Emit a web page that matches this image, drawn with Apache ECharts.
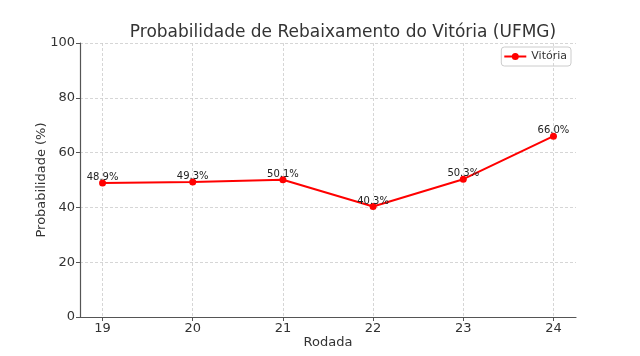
<!DOCTYPE html>
<html><head><meta charset="utf-8">
<script src="https://cdn.jsdelivr.net/npm/echarts@6/dist/echarts.min.js"></script>
<style>html,body{margin:0;padding:0;background:#fff}#c{width:640px;height:356px}</style>
</head><body><div id="c"></div>
<script>
const rodadas = [19, 20, 21, 22, 23, 24];
const probVitoria = [48.9, 49.3, 50.1, 40.3, 50.3, 66.0];
const yTicks = [0, 20, 40, 60, 80, 100];

const chart = echarts.init(document.getElementById('c'));
const font = 'DejaVu Sans';
chart.setOption({
  animation: false,
  title: {
    text: 'Probabilidade de Rebaixamento do Vitória (UFMG)',
    left: 338, top: 19, textAlign: 'center',
    textStyle: {fontFamily: font, fontSize: 17, fontWeight: 'normal', color: '#333'}
  },
  legend: {
    right: 69, top: 47, orient: 'vertical',
    itemWidth: 22, itemHeight: 8, itemGap: 4,
    padding: [4, 4, 4, 3],
    borderColor: '#ccc', borderWidth: 1, borderRadius: 3,
    textStyle: {fontFamily: font, fontSize: 11, color: '#333'},
    data: [{name: 'Vitória', icon: 'path://M0,3.1 L22,3.1 L22,4.9 L0,4.9 Z M14.5,4 A3.5,3.5 0 1 1 7.5,4 A3.5,3.5 0 1 1 14.5,4 Z'}]
  },
  grid: {left: 80, right: 64, top: 43, bottom: 39, containLabel: false},
  xAxis: {
    type: 'value', min: 18.75, max: 24.25, splitNumber: 5, minInterval: 1,
    name: 'Rodada', nameLocation: 'middle', nameGap: 19, nameMoveOverlap: false,
    nameTextStyle: {fontFamily: font, fontSize: 13, color: '#333', verticalAlign: 'top'},
    axisLine: {show: true, lineStyle: {color: '#555', width: 1.2}},
    axisTick: {show: true, length: 4, lineStyle: {color: '#555'}},
    axisLabel: {fontFamily: font, fontSize: 13, color: '#333', margin: 5,
      showMinLabel: false, showMaxLabel: false,
      formatter: v => Number.isInteger(v) ? String(v) : ''},
    splitLine: {show: true, showMinLine: false, showMaxLine: false,
      lineStyle: {color: '#ccc', type: [3, 2], width: 0.8}}
  },
  yAxis: {
    type: 'value', min: 0, max: 100, interval: 20,
    name: 'Probabilidade (%)', nameLocation: 'middle', nameGap: 32, nameMoveOverlap: false,
    nameTextStyle: {fontFamily: font, fontSize: 13, color: '#333'},
    axisLine: {show: true, lineStyle: {color: '#555', width: 1.2}},
    axisTick: {show: true, length: 4, lineStyle: {color: '#555'}},
    axisLabel: {fontFamily: font, fontSize: 13, color: '#333', margin: 5},
    splitLine: {show: true, lineStyle: {color: '#ccc', type: [3, 2], width: 0.8}}
  },
  series: [{
    name: 'Vitória', type: 'line',
    data: rodadas.map((r, i) => [r, probVitoria[i]]),
    color: '#ff0000',
    lineStyle: {width: 2, color: '#ff0000'},
    symbol: 'circle', symbolSize: 7,
    itemStyle: {color: '#ff0000'},
    label: {show: true, position: 'top', distance: -3,
      fontFamily: font, fontSize: 10, color: '#222',
      formatter: p => p.value[1].toFixed(1) + '%'}
  }]
});
</script></body></html>
